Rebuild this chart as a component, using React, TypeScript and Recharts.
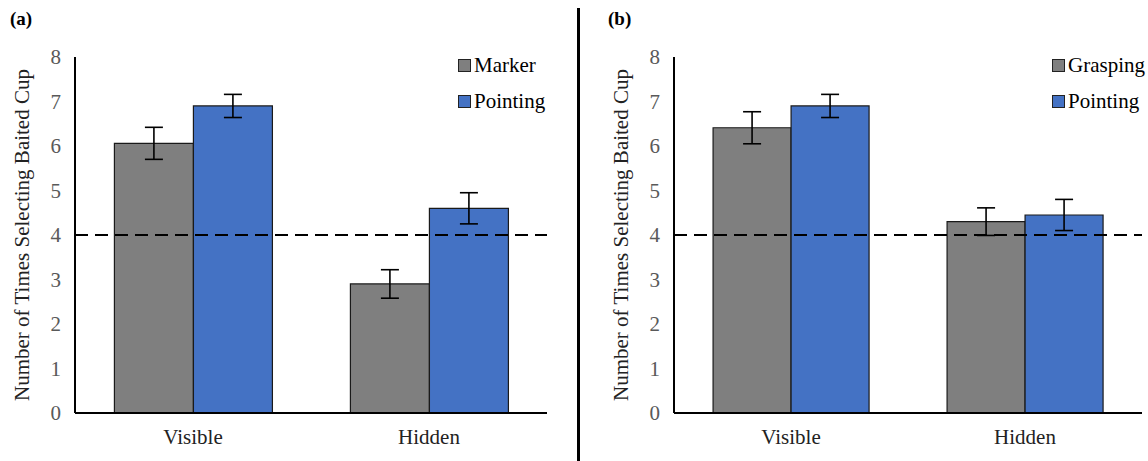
import React from "react";
import {
  BarChart,
  Bar,
  XAxis,
  YAxis,
  ErrorBar,
  ReferenceLine,
  Legend,
} from "recharts";

const categories = ["Visible", "Hidden"];
const yTicks = [0, 1, 2, 3, 4, 5, 6, 7, 8];

// panel (a)
const markerMeans = [6.06, 2.9];
const markerErr = [0.36, 0.32];
const pointingMeansA = [6.9, 4.6];
const pointingErrA = [0.26, 0.35];

// panel (b)
const graspingMeans = [6.41, 4.3];
const graspingErr = [0.36, 0.31];
const pointingMeansB = [6.9, 4.45];
const pointingErrB = [0.26, 0.35];

const chanceLevel = 4;

const GRAY = "#7f7f7f";
const BLUE = "#4472c4";
const FONT = "Liberation Serif";

const dataA = categories.map((c, i) => ({
  name: c,
  first: markerMeans[i],
  firstErr: markerErr[i],
  second: pointingMeansA[i],
  secondErr: pointingErrA[i],
}));

const dataB = categories.map((c, i) => ({
  name: c,
  first: graspingMeans[i],
  firstErr: graspingErr[i],
  second: pointingMeansB[i],
  secondErr: pointingErrB[i],
}));

const LegendBox = (props: any) => {
  const { payload } = props;
  return (
    <div style={{ fontFamily: FONT, fontSize: 21, color: "#000" }}>
      {payload.map((p: any) => (
        <div
          key={p.value}
          style={{ display: "flex", alignItems: "center", height: 36 }}
        >
          <span
            style={{
              width: 11,
              height: 11,
              background: p.color,
              border: "1.5px solid #222",
              marginRight: 3,
              display: "inline-block",
            }}
          />
          {p.value}
        </div>
      ))}
    </div>
  );
};

type PanelProps = {
  data: any[];
  firstName: string;
  width: number;
  axisLeft: number;
  rightMargin: number;
  legendLeft: number;
};

function Panel({ data, firstName, width, axisLeft, rightMargin, legendLeft }: PanelProps) {
  return (
    <BarChart
      width={width}
      height={461}
      data={data}
      margin={{ top: 57, right: rightMargin, bottom: 18, left: 0 }}
      barCategoryGap="16.7%"
      barGap={0}
      style={{ fontFamily: FONT }}
    >
      <XAxis
        dataKey="name"
        tickLine={false}
        axisLine={{ stroke: "#000", strokeWidth: 2 }}
        tick={{ fill: "#222", fontSize: 21, fontFamily: FONT }}
        tickMargin={10}
        height={30}
      />
      <YAxis
        width={axisLeft}
        domain={[0, 8]}
        ticks={yTicks}
        interval={0}
        tickLine={false}
        axisLine={{ stroke: "#000", strokeWidth: 2 }}
        tick={{ fill: "#595959", fontSize: 21, fontFamily: FONT }}
        tickMargin={8}
        label={{
          value: "Number of Times Selecting Baited Cup",
          angle: -90,
          position: "insideLeft",
          offset: axisLeft - 53,
          style: { textAnchor: "middle", fontSize: 21, fontFamily: FONT, fill: "#222" },
        }}
      />
      <Legend
        layout="vertical"
        verticalAlign="middle"
        align="center"
        content={<LegendBox />}
        wrapperStyle={{ top: 47, left: legendLeft, width: 110 }}
      />
      <Bar
        dataKey="first"
        name={firstName}
        fill={GRAY}
        stroke="#1a1a1a"
        strokeWidth={1.2}
        isAnimationActive={false}
      >
        <ErrorBar dataKey="firstErr" width={9} stroke="#000" strokeWidth={1.6} direction="y" />
      </Bar>
      <Bar
        dataKey="second"
        name="Pointing"
        fill={BLUE}
        stroke="#1a1a1a"
        strokeWidth={1.2}
        isAnimationActive={false}
      >
        <ErrorBar dataKey="secondErr" width={9} stroke="#000" strokeWidth={1.6} direction="y" />
      </Bar>
      <ReferenceLine
        y={chanceLevel}
        stroke="#000"
        strokeWidth={2}
        strokeDasharray="13 7"
      />
    </BarChart>
  );
}

export default function App() {
  return (
    <div
      style={{
        position: "absolute",
        left: 0,
        top: 0,
        width: 1148,
        height: 461,
        background: "#fff",
        fontFamily: FONT,
      }}
    >
      <div style={{ position: "absolute", left: 10, top: 8, fontSize: 19, fontWeight: "bold" }}>
        (a)
      </div>
      <div style={{ position: "absolute", left: 608, top: 8, fontSize: 19, fontWeight: "bold" }}>
        (b)
      </div>
      <div
        style={{
          position: "absolute",
          left: 577,
          top: 8,
          width: 3,
          height: 453,
          background: "#000",
        }}
      />
      <div style={{ position: "absolute", left: 0, top: 0 }}>
        <Panel
          data={dataA}
          firstName="Marker"
          width={577}
          axisLeft={75}
          rightMargin={30}
          legendLeft={458}
        />
      </div>
      <div style={{ position: "absolute", left: 580, top: 0 }}>
        <Panel
          data={dataB}
          firstName="Grasping"
          width={568}
          axisLeft={94}
          rightMargin={6}
          legendLeft={472}
        />
      </div>
    </div>
  );
}
